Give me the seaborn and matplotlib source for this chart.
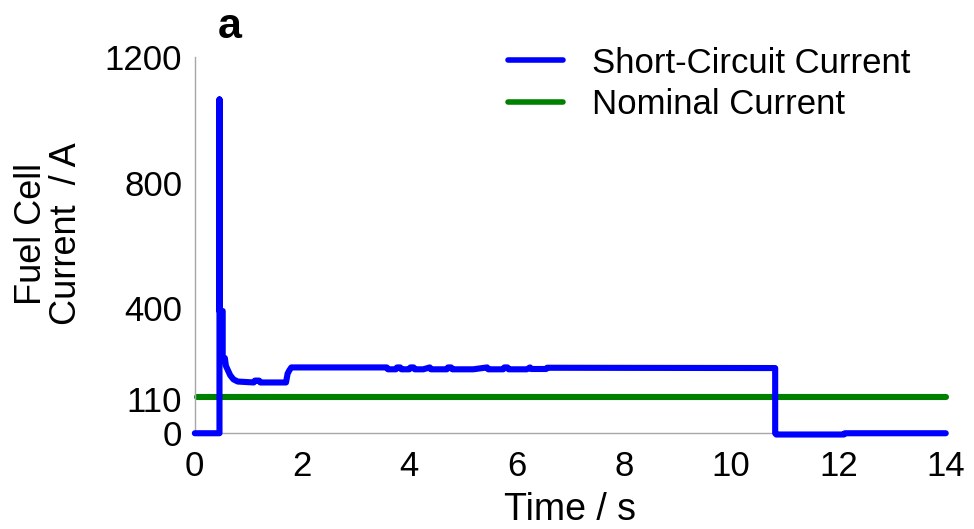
import matplotlib
matplotlib.use("Agg")
import matplotlib.pyplot as plt
import seaborn as sns
import pandas as pd

# ---- data ----
time_s = [0.00, 0.46, 0.46, 0.46, 0.52, 0.52, 0.56, 0.58, 0.62, 0.66, 0.72, 0.80,
          1.10, 1.12, 1.20, 1.22, 1.70, 1.73, 1.76, 1.80,
          3.58, 3.60, 3.75, 3.77, 3.83, 3.85, 4.00, 4.02, 4.08, 4.10, 4.26,
          4.38, 4.40, 4.70, 4.72, 4.78, 4.80, 5.19,
          5.45, 5.47, 5.75, 5.77, 5.83, 5.85, 6.19,
          6.25, 6.27, 6.55, 6.57,
          10.82, 10.82, 10.84, 12.10, 12.12, 14.00]
short_circuit = [0, 0, 1065, 390, 390, 240, 240, 215, 200, 185, 172, 165,
                 162, 168, 168, 162, 162, 190, 200, 210,
                 210, 204, 204, 210, 210, 204, 204, 210, 210, 204, 204,
                 210, 204, 204, 210, 210, 204, 204,
                 210, 204, 204, 210, 210, 204, 204,
                 210, 205, 205, 209,
                 208, 0, -4, -4, 0, 0]
nominal_time = [0.05, 14.0]
nominal_current = [116, 116]

x_ticks = [0, 2, 4, 6, 8, 10, 12, 14]
y_ticks = [0, 110, 400, 800, 1200]

df_sc = pd.DataFrame({"t": time_s, "I": short_circuit})
df_nom = pd.DataFrame({"t": nominal_time, "I": nominal_current})

sns.set_style("white")
plt.rcParams["font.family"] = ["Liberation Sans", "DejaVu Sans"]
plt.rcParams["text.color"] = "black"
plt.rcParams["axes.labelcolor"] = "black"
plt.rcParams["xtick.color"] = "black"
plt.rcParams["ytick.color"] = "black"

fig = plt.figure(figsize=(9.74, 5.29), dpi=100)
ax = fig.add_axes([0.200, 0.181, 0.771, 0.711])

sns.lineplot(data=df_sc, x="t", y="I", sort=False, estimator=None, ax=ax,
             color="#0000ff", linewidth=4.4, label="Short-Circuit Current",
             clip_on=False, solid_joinstyle="round", solid_capstyle="round", zorder=3)
sns.lineplot(data=df_nom, x="t", y="I", sort=False, estimator=None, ax=ax,
             color="#008000", linewidth=4.4, label="Nominal Current",
             clip_on=False, zorder=2)

ax.set_xlim(0, 14)
ax.set_ylim(0, 1200)
ax.set_xticks(x_ticks)
ax.set_yticks(y_ticks)
ax.set_xticklabels([str(v) for v in x_ticks],
                   fontfamily=["Liberation Sans Narrow", "Liberation Sans"], fontsize=25)
ax.set_yticklabels([str(v) for v in y_ticks], fontsize=25)

for side in ["top", "right"]:
    ax.spines[side].set_visible(False)
for side in ["left", "bottom"]:
    ax.spines[side].set_color("#a8a8a8")
    ax.spines[side].set_linewidth(1.0)

ax.tick_params(axis="x", direction="in", length=6, width=0.8, color="#808080",
               labelcolor="black", pad=12)
ax.tick_params(axis="y", direction="in", length=4, width=0.8, color="#808080",
               labelcolor="black", pad=9)

ax.set_xlabel("Time / s", fontsize=27,
              fontfamily=["Liberation Sans Narrow", "Liberation Sans"])
ax.xaxis.set_label_coords(0.5, -0.155)
ax.set_ylabel("Fuel Cell\nCurrent  / A", fontsize=26, linespacing=1.0)
ax.yaxis.set_label_coords(-0.147, 0.53)

leg = ax.legend(loc="upper left", bbox_to_anchor=(0.5216, 0.912),
                bbox_transform=fig.transFigure, frameon=False, fontsize=25,
                handlelength=1.57, handletextpad=0.86, labelspacing=0.25,
                borderpad=0, borderaxespad=0)
for line in leg.get_lines():
    line.set_linewidth(4.0)

fig.text(0.224, 0.928, "a", fontsize=31, fontweight="bold", va="baseline", ha="left")

fig.savefig("out.png", dpi=100)
